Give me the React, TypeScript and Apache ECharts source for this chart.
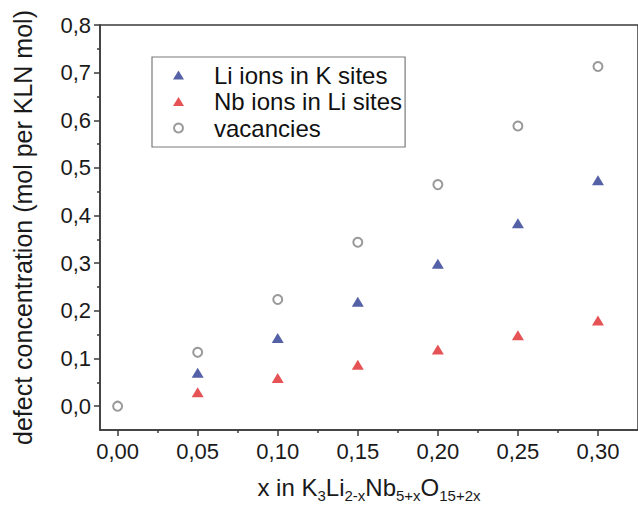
import React, { useEffect, useRef } from "react";
import * as echarts from "echarts";

const xValues = [0, 0.05, 0.1, 0.15, 0.2, 0.25, 0.3];
const liInKSites = [null, 0.07, 0.143, 0.219, 0.299, 0.384, 0.474];
const nbInLiSites = [null, 0.029, 0.059, 0.087, 0.119, 0.149, 0.18];
const vacancies = [0, 0.113, 0.224, 0.344, 0.465, 0.588, 0.713];

const xMajorTicks = [0, 0.05, 0.1, 0.15, 0.2, 0.25, 0.3];
const xMinorTicks = [0.025, 0.075, 0.125, 0.175, 0.225, 0.275];
const yMajorTicks = [0, 0.1, 0.2, 0.3, 0.4, 0.5, 0.6, 0.7, 0.8];
const yMinorTicks = [0.05, 0.15, 0.25, 0.35, 0.45, 0.55, 0.65, 0.75];

const seriesNames = ["Li ions in K sites", "Nb ions in Li sites", "vacancies"];

const FONT = "Arial, 'Liberation Sans', Helvetica, sans-serif";
const AXIS_COLOR = "#3a3a3a";

function pairs(ys: (number | null)[]) {
  const out: [number, number][] = [];
  xValues.forEach((x, i) => {
    const y = ys[i];
    if (y != null) out.push([x, y]);
  });
  return out;
}

export default function App() {
  const ref = useRef<HTMLDivElement>(null);

  useEffect(() => {
    if (!ref.current) return;
    const chart = echarts.init(ref.current, undefined, { renderer: "svg" });
    const xMin = -0.011;
    const xMax = 0.325;
    const yMin = -0.05;
    const yMax = 0.8;

    const option: any = {
      animation: false,
      backgroundColor: "#ffffff",
      grid: {
        left: 96,
        top: 25,
        right: -2,
        bottom: 80,
        show: true,
        borderColor: AXIS_COLOR,
        borderWidth: 1.5,
        containLabel: false,
      },
      legend: {
        orient: "vertical",
        left: 152,
        top: 57,
        padding: [5, 3, 6, 21],
        itemGap: 0.5,
        itemWidth: 11,
        itemHeight: 9,
        borderColor: "#7a7a7a",
        borderWidth: 1.2,
        backgroundColor: "#ffffff",
        textStyle: {
          fontSize: 24,
          fontFamily: FONT,
          color: "#111",
          lineHeight: 26,
          padding: [0, 0, 0, 25],
        },
        data: [
          { name: seriesNames[0], icon: "triangle" },
          { name: seriesNames[1], icon: "triangle" },
          { name: seriesNames[2], icon: "emptyCircle" },
        ],
      },
      xAxis: [
        {
          type: "value",
          min: xMin,
          max: xMax,
          position: "bottom",
          axisLine: { show: true, onZero: false, lineStyle: { color: AXIS_COLOR, width: 1.5 } },
          axisTick: {
            show: true,
            inside: false,
            length: 6,
            customValues: xMajorTicks,
            lineStyle: { color: AXIS_COLOR, width: 1.5 },
          },
          axisLabel: {
            customValues: xMajorTicks,
            formatter: (v: number) => v.toFixed(2).replace(".", ","),
            fontSize: 22,
            fontFamily: FONT,
            color: "#1a1a1a",
            margin: 10,
          },
          splitLine: { show: false },
          name: "{m|x in K}{s|3}{m|Li}{s|2-x}{m|Nb}{s|5+x}{m|O}{s|15+2x}",
          nameLocation: "middle",
          nameGap: 45,
          nameTextStyle: {
            rich: {
              m: {
                fontSize: 24,
                fontFamily: FONT,
                color: "#1a1a1a",
                lineHeight: 28,
                verticalAlign: "top",
              },
              s: {
                fontSize: 15,
                fontFamily: FONT,
                color: "#1a1a1a",
                lineHeight: 15,
                padding: [17, 0, 0, 0],
                verticalAlign: "bottom",
              },
            },
          },
        },
        {
          type: "value",
          min: xMin,
          max: xMax,
          position: "bottom",
          axisLine: { show: false, onZero: false },
          axisTick: {
            show: true,
            inside: false,
            length: 3,
            customValues: xMinorTicks,
            lineStyle: { color: AXIS_COLOR, width: 1.5 },
          },
          axisLabel: { show: false },
          splitLine: { show: false },
        },
      ],
      yAxis: [
        {
          type: "value",
          min: yMin,
          max: yMax,
          position: "left",
          axisLine: { show: true, onZero: false, lineStyle: { color: AXIS_COLOR, width: 1.5 } },
          axisTick: {
            show: true,
            inside: false,
            length: 6,
            customValues: yMajorTicks,
            lineStyle: { color: AXIS_COLOR, width: 1.5 },
          },
          axisLabel: {
            customValues: yMajorTicks,
            formatter: (v: number) => v.toFixed(1).replace(".", ","),
            fontSize: 22,
            fontFamily: FONT,
            color: "#1a1a1a",
            margin: 9,
          },
          splitLine: { show: false },
          name: "defect concentration (mol per KLN mol)",
          nameLocation: "middle",
          nameGap: 62,
          nameRotate: 90,
          nameTextStyle: {
            fontSize: 25,
            fontFamily: FONT,
            color: "#1a1a1a",
            lineHeight: 30,
          },
        },
        {
          type: "value",
          min: yMin,
          max: yMax,
          position: "left",
          axisLine: { show: false, onZero: false },
          axisTick: {
            show: true,
            inside: false,
            length: 3,
            customValues: yMinorTicks,
            lineStyle: { color: AXIS_COLOR, width: 1.5 },
          },
          axisLabel: { show: false },
          splitLine: { show: false },
        },
      ],
      series: [
        {
          name: seriesNames[0],
          type: "scatter",
          symbol: "triangle",
          symbolSize: [12, 10],
          itemStyle: { color: "#2b3990" },
          data: pairs(liInKSites),
        },
        {
          name: seriesNames[1],
          type: "scatter",
          symbol: "triangle",
          symbolSize: [12, 10],
          itemStyle: { color: "#e0282c" },
          data: pairs(nbInLiSites),
        },
        {
          name: seriesNames[2],
          type: "scatter",
          symbol: "emptyCircle",
          symbolSize: 9,
          itemStyle: { color: "#808080", borderColor: "#808080", borderWidth: 1.5 },
          data: pairs(vacancies),
        },
      ],
    };
    chart.setOption(option);
    return () => chart.dispose();
  }, []);

  return <div ref={ref} style={{ width: 638, height: 510, position: "absolute", left: 0, top: 0 }} />;
}
